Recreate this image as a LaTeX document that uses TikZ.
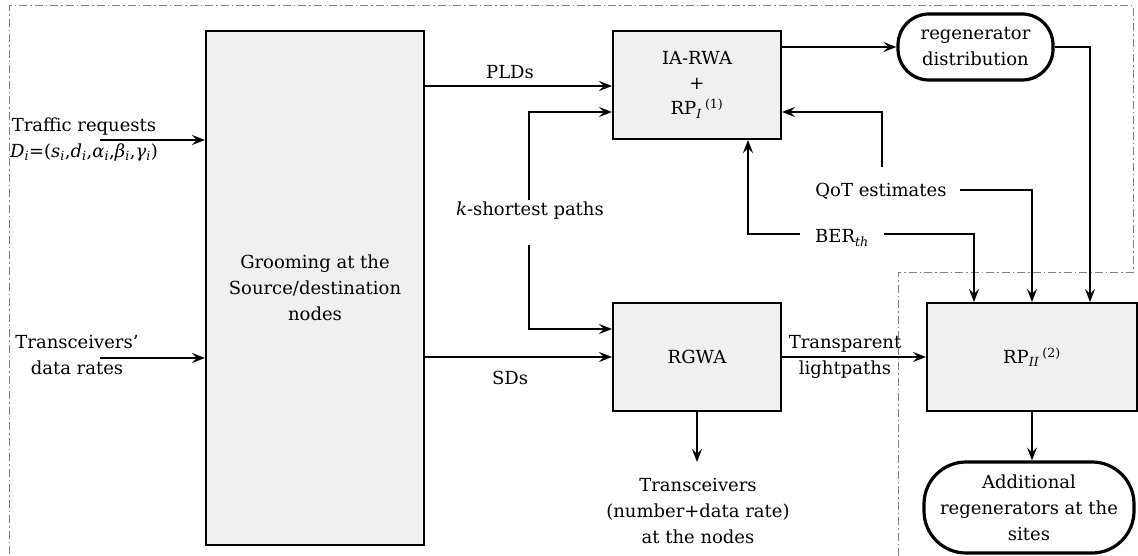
\documentclass[tikz,border=0pt]{standalone}
\usepackage{fontspec}
\setmainfont{DejaVu Serif}
\usetikzlibrary{arrows.meta}
\definecolor{boxgray}{HTML}{F0F0F0}
\definecolor{bordergray}{HTML}{808080}
\begin{document}
\begin{tikzpicture}[x=1pt,y=-1pt,
  every node/.style={font=\fontsize{18}{26}\selectfont, align=center},
  procbox/.style={draw, line width=2pt, fill=boxgray, inner sep=0pt},
  termbox/.style={draw, line width=3.2pt, fill=white, inner sep=0pt},
  conn/.style={line width=1.5pt, -{Stealth[length=13pt,width=10pt,inset=5pt]}},
  bound/.style={draw=bordergray, line width=1pt, dash pattern=on 8pt off 3pt on 1.5pt off 3pt}
]
\useasboundingbox (0,0) rectangle (1138,556);
% boundary
\draw[bound] (898,556) -- (898,272) -- (1133,272) -- (1133,6) -- (9,6) -- (9,556);

% process boxes
\node[procbox, minimum width=218pt, minimum height=514pt] (groom) at (315,288) {Grooming at the\\Source/destination\\nodes};
\node[procbox, minimum width=168pt, minimum height=108pt, font=\fontsize{18}{25}\selectfont] (ia) at (697,85) {IA-RWA\\+\\RP\textsubscript{\textit{I}}\,\textsuperscript{(1)}};
\node[procbox, minimum width=168pt, minimum height=108pt] (rgwa) at (697,357) {RGWA};
\node[procbox, minimum width=210pt, minimum height=108pt] (rp) at (1032,357) {RP\textsubscript{\textit{II}}\,\textsuperscript{(2)}};
\node[termbox, rounded corners=31pt, minimum width=155pt, minimum height=66pt] (regen) at (975.5,47) {regenerator\\distribution};
\node[termbox, rounded corners=42pt, minimum width=210pt, minimum height=91pt] (addl) at (1029,507.5) {Additional\\regenerators at the\\sites};

% text labels
\node (traffic) at (84,139.5) {Traffic requests\\\textit{D}\textsubscript{\textit{i}}=(\textit{s}\textsubscript{\textit{i}},\textit{d}\textsubscript{\textit{i}},\textit{α}\textsubscript{\textit{i}},\textit{β}\textsubscript{\textit{i}},\textit{γ}\textsubscript{\textit{i}})};
\node (trx) at (77,355.5) {Transceivers’\\data rates};
\node (plds) at (510,72) {PLDs};
\node (sds) at (510,378) {SDs};
\node (kp) at (530,211) {\textit{k}-shortest paths};
\node (qot) at (881,191) {QoT estimates};
\node (ber) at (842,238) {BER\textsubscript{\textit{th}}};
\node (trans) at (845,357) {Transparent\\lightpaths};
\node (trout) at (698,511) {Transceivers\\(number+data rate)\\at the nodes};

% coordinates
\coordinate (tin) at (100,140);
\coordinate (rin) at (100,358);
\coordinate (kup) at (529,200);
\coordinate (kdn) at (529,245);
\coordinate (qup) at (882,167);
\coordinate (qrt) at (960,190);
\coordinate (blt) at (800,234);
\coordinate (brt) at (884,234);

% connectors
\draw[conn] (tin) -- (tin -| groom.west);
\draw[conn] (rin) -- (rin -| groom.west);
\draw[conn] (groom.east |- 0,86) -- (ia.west |- 0,86);
\draw[conn] (groom.east |- 0,357) -- (rgwa.west |- 0,357);
\draw[conn] (kup) |- (ia.west |- 0,112);
\draw[conn] (kdn) |- (rgwa.west |- 0,329);
\draw[conn] (ia.east |- regen.west) -- (regen.west);
\draw[conn] (regen.east) -| (rp.north -| 1090,0);
\draw[conn] (qup) |- (ia.east |- 0,112);
\draw[conn] (qrt) -| (rp.north);
\draw[conn] (blt) -| (ia.south -| 748,0);
\draw[conn] (brt) -| (rp.north -| 974,0);
\draw[conn] (rgwa.east) -- (rp.west);
\draw[conn] (rgwa.south) -- (rgwa.south |- 0,462);
\draw[conn] (rp.south) -- (rp.south |- addl.north);
\end{tikzpicture}
\end{document}
